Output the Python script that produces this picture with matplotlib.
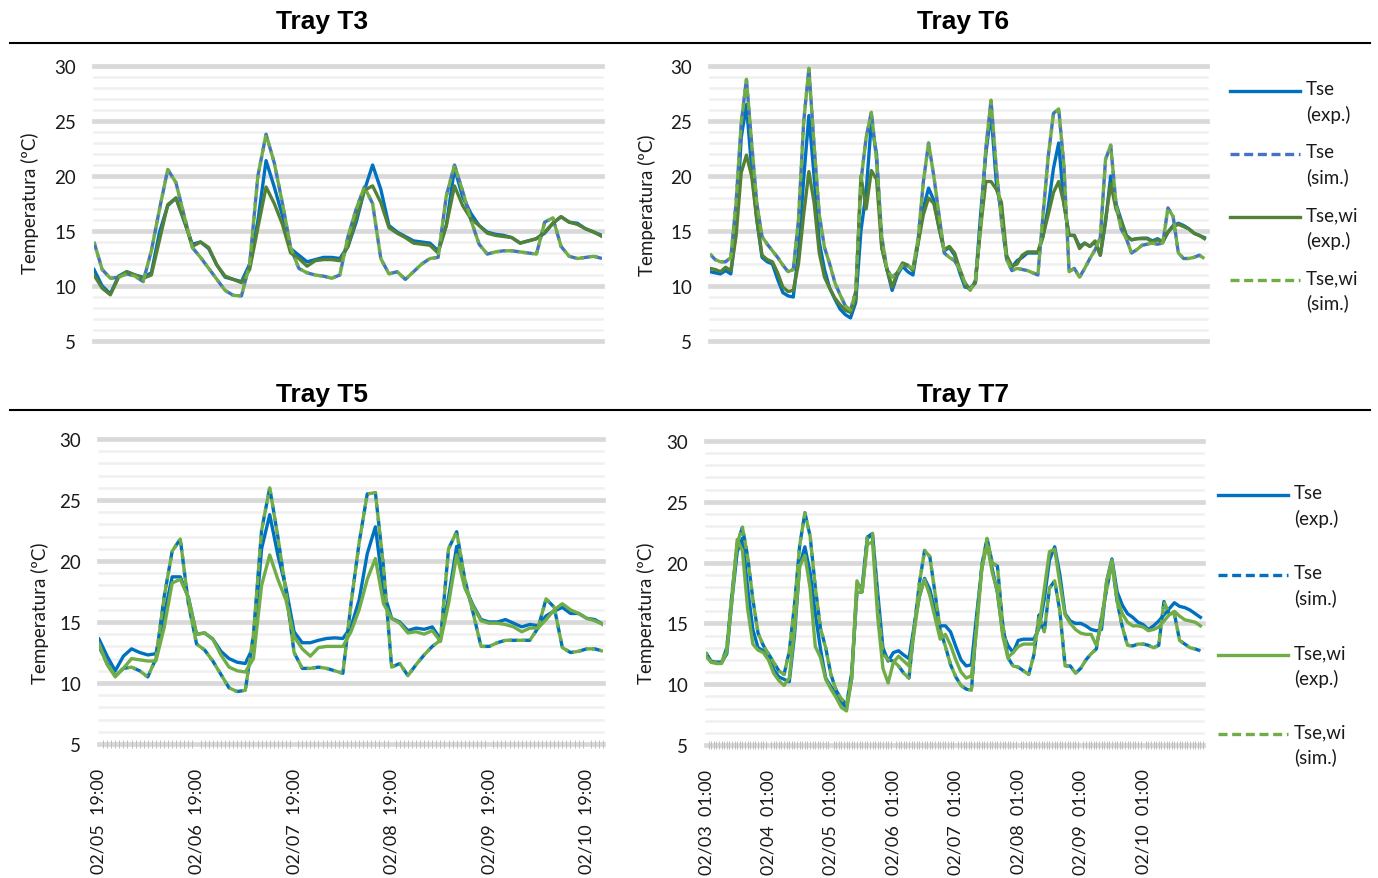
import numpy as np
import matplotlib
matplotlib.use('Agg')
import matplotlib.pyplot as plt
from matplotlib.lines import Line2D

plt.rcParams['font.family'] = ['Lato', 'DejaVu Sans']

# hours after the first reading, one value every 2 h
hours_a = list(range(0, 125, 2))   # Tray T3 / T5, from 02/05 19:00
hours_b = list(range(0, 191, 2))   # Tray T6 / T7, from 02/03 01:00

ticks_a = [0, 24, 48, 72, 96, 120]
labels_a = ['02/05  19:00', '02/06  19:00', '02/07  19:00',
            '02/08  19:00', '02/09  19:00', '02/10  19:00']
ticks_b = [0, 24, 48, 72, 96, 120, 144, 168]
labels_b = ['02/03  01:00', '02/04  01:00', '02/05  01:00', '02/06  01:00',
            '02/07  01:00', '02/08  01:00', '02/09  01:00', '02/10  01:00']

legend_labels = ['Tse\n(exp.)', 'Tse\n(sim.)', 'Tse,wi\n(exp.)', 'Tse,wi\n(sim.)']

# ---- Tray T3
t3_tse_exp = [
    11.5, 10.0, 9.3, 10.9, 11.3, 11.0, 10.8, 11.2, 14.9, 17.3,
    18.0, 15.9, 13.8, 14.0, 13.4, 11.9, 10.8, 10.6, 10.4, 12.0,
    15.9, 21.4, 19.0, 16.4, 13.4, 12.8, 12.2, 12.4, 12.6, 12.6,
    12.5, 13.6, 15.8, 18.7, 21.0, 18.8, 15.5, 14.9, 14.5, 14.1,
    14.0, 13.9, 13.2, 15.5, 20.7, 18.1, 16.6, 15.5, 14.9, 14.7,
    14.6, 14.4, 13.9, 14.1, 14.3, 14.8, 15.7, 16.3, 15.8, 15.7,
    15.2, 14.9, 14.6]
t3_tsewi_exp = [
    11.0, 9.8, 9.2, 10.8, 11.3, 11.0, 10.7, 11.0, 14.2, 17.4,
    18.0, 16.0, 13.6, 14.0, 13.5, 11.9, 10.9, 10.6, 10.3, 11.5,
    15.3, 19.0, 17.5, 15.6, 13.0, 12.5, 11.8, 12.3, 12.4, 12.4,
    12.3, 13.6, 16.2, 18.7, 19.1, 17.6, 15.3, 14.8, 14.4, 13.9,
    13.8, 13.7, 13.0, 15.5, 19.1, 17.3, 16.1, 15.5, 14.8, 14.6,
    14.5, 14.4, 13.9, 14.1, 14.3, 14.9, 15.7, 16.3, 15.8, 15.6,
    15.2, 14.9, 14.5]
t3_tse_sim = [
    14.0, 11.5, 10.7, 10.8, 11.1, 10.9, 10.4, 13.2, 17.0, 20.6,
    19.4, 16.4, 13.5, 12.6, 11.6, 10.6, 9.6, 9.15, 9.1, 12.0,
    20.0, 23.8, 21.2, 17.5, 13.5, 11.6, 11.2, 11.0, 10.9, 10.7,
    11.0, 14.5, 17.0, 19.0, 17.5, 12.5, 11.1, 11.3, 10.6, 11.3,
    12.0, 12.5, 12.6, 18.2, 21.0, 18.6, 16.0, 13.8, 12.9, 13.1,
    13.2, 13.2, 13.1, 13.0, 12.9, 15.8, 16.2, 13.6, 12.7, 12.5,
    12.6, 12.7, 12.5]
t3_tsewi_sim = list(t3_tse_sim)   # the two simulated curves coincide

# ---- Tray T5
t5_tse_exp = [
    13.6, 12.2, 11.0, 12.2, 12.8, 12.5, 12.3, 12.4, 15.5, 18.7,
    18.7, 17.0, 14.0, 14.1, 13.6, 12.6, 12.0, 11.7, 11.6, 13.0,
    21.0, 23.8, 20.5, 17.8, 14.2, 13.3, 13.3, 13.5, 13.65, 13.7,
    13.65, 14.6, 16.8, 20.6, 22.8, 17.5, 15.3, 15.0, 14.3, 14.5,
    14.4, 14.6, 13.6, 17.0, 21.2, 17.9, 16.4, 15.2, 15.0, 15.0,
    15.2, 14.9, 14.6, 14.8, 14.7, 15.5, 15.9, 16.2, 15.7, 15.7,
    15.3, 15.2, 14.8]
t5_tsewi_exp = [
    13.2, 11.5, 10.5, 11.2, 12.0, 11.9, 11.8, 11.8, 14.5, 18.2,
    18.5, 17.0, 14.0, 14.1, 13.6, 12.3, 11.3, 11.0, 10.9, 12.0,
    18.0, 20.5, 18.5, 16.8, 13.8, 12.8, 12.2, 12.9, 13.0, 13.0,
    13.0, 14.2, 16.0, 18.5, 20.2, 16.5, 15.3, 14.9, 14.1, 14.2,
    14.0, 14.3, 13.4, 16.5, 20.5, 17.8, 16.3, 15.1, 14.9, 14.9,
    14.8, 14.6, 14.2, 14.5, 14.5, 15.2, 16.0, 16.5, 16.0, 15.7,
    15.3, 15.1, 14.8]
t5_tse_sim = [
    13.0, 11.6, 10.6, 11.2, 11.3, 11.0, 10.5, 12.0, 17.0, 20.8,
    21.8, 16.5, 13.2, 12.7, 11.8, 10.7, 9.6, 9.3, 9.4, 14.0,
    22.5, 26.0, 22.0, 17.5, 12.5, 11.2, 11.2, 11.3, 11.2, 11.0,
    10.8, 16.5, 21.5, 25.5, 25.6, 19.5, 11.3, 11.6, 10.6, 11.5,
    12.3, 13.0, 13.5, 21.0, 22.4, 18.5, 15.8, 13.0, 13.0, 13.3,
    13.5, 13.5, 13.5, 13.5, 14.5, 16.9, 16.2, 12.9, 12.5, 12.6,
    12.8, 12.8, 12.6]
t5_tsewi_sim = list(t5_tse_sim)

# ---- Tray T6
t6_tse_exp = [
    11.3, 11.2, 11.1, 11.4, 11.1, 15.0, 23.5, 26.5, 20.7, 16.0,
    12.6, 12.2, 12.0, 10.6, 9.4, 9.1, 9.0, 13.0, 19.8, 25.5,
    20.0, 14.0, 11.5, 9.8, 8.8, 7.9, 7.4, 7.1, 8.5, 15.0,
    18.5, 24.9, 22.0, 13.5, 11.5, 9.6, 11.0, 11.8, 11.3, 11.0,
    14.0, 17.1, 18.9, 17.8, 15.3, 13.2, 13.5, 12.8, 11.2, 9.9,
    9.8, 10.3, 16.5, 22.0, 25.8, 19.5, 16.6, 12.6, 11.7, 12.3,
    12.6, 13.0, 13.0, 13.0, 14.5, 17.2, 20.7, 23.0, 17.5, 14.6,
    14.6, 13.6, 13.9, 13.6, 14.0, 12.8, 15.8, 20.0, 17.5, 16.0,
    14.6, 14.2, 14.3, 14.35, 14.35, 14.1, 14.3, 14.0, 14.9, 15.5,
    15.7, 15.5, 15.2, 14.8, 14.6, 14.4]
t6_tsewi_exp = [
    11.6, 11.5, 11.3, 11.7, 11.4, 14.5, 20.3, 21.9, 20.0, 16.0,
    12.8, 12.4, 12.2, 11.2, 9.9, 9.5, 9.6, 12.0, 16.5, 20.4,
    17.6, 13.0, 10.8, 9.8, 8.9, 8.3, 7.8, 7.6, 8.8, 20.0,
    17.0, 20.5, 19.7, 13.5, 11.5, 9.9, 11.2, 12.1, 11.9, 11.4,
    13.9, 16.5, 18.0, 17.5, 15.3, 13.3, 13.6, 13.0, 11.5, 10.1,
    9.7, 10.3, 15.3, 19.5, 19.5, 18.8, 17.6, 12.8, 11.8, 12.0,
    12.8, 13.1, 13.1, 13.1, 14.6, 16.5, 18.5, 19.5, 17.5, 14.6,
    14.6, 13.4, 13.9, 13.6, 14.1, 12.8, 16.0, 19.3, 17.0, 15.9,
    14.5, 14.2, 14.3, 14.3, 14.3, 14.0, 14.2, 14.0, 14.9, 15.4,
    15.6, 15.4, 15.2, 14.8, 14.6, 14.3]
t6_tse_sim = [
    12.9, 12.4, 12.2, 12.2, 12.6, 17.5, 24.8, 28.8, 23.0, 17.5,
    14.5, 13.8, 13.2, 12.6, 11.9, 11.3, 11.5, 16.0, 24.9, 29.8,
    22.8, 16.5, 13.5, 12.0, 10.3, 9.2, 8.2, 7.8, 9.5, 19.5,
    23.5, 25.8, 21.5, 14.5, 11.5, 10.8, 11.2, 11.9, 11.8, 11.6,
    14.3, 19.5, 23.0, 20.0, 16.5, 13.0, 12.6, 12.3, 11.5, 10.3,
    9.6, 10.5, 15.5, 22.5, 26.9, 20.7, 16.0, 12.4, 11.4, 11.6,
    11.5, 11.4, 11.2, 11.0, 16.5, 21.8, 25.7, 26.1, 21.0, 11.3,
    11.6, 10.8, 11.6, 12.5, 13.3, 14.4, 21.5, 22.8, 17.5, 15.2,
    14.3, 13.0, 13.3, 13.7, 13.8, 13.9, 13.8, 13.9, 17.1, 16.3,
    13.0, 12.5, 12.5, 12.6, 12.8, 12.5]
t6_tsewi_sim = list(t6_tse_sim)

# ---- Tray T7
t7_tse_exp = [
    12.5, 11.9, 11.8, 11.8, 12.5, 17.0, 20.9, 22.0, 17.9, 14.5,
    13.0, 12.75, 12.3, 11.2, 10.6, 10.4, 10.2, 14.0, 19.8, 21.3,
    19.2, 15.8, 12.9, 10.5, 9.8, 9.2, 8.5, 8.1, 10.5, 18.2,
    18.0, 22.0, 22.3, 17.5, 13.0, 11.9, 12.6, 12.75, 12.4, 12.1,
    14.8, 17.2, 18.7, 17.8, 16.0, 14.8, 14.8, 14.3, 13.1, 12.0,
    11.5, 11.6, 15.7, 19.5, 21.8, 19.5, 17.5, 14.3, 13.2, 12.6,
    13.6, 13.7, 13.7, 13.7, 14.6, 17.0, 20.2, 21.3, 19.0, 15.8,
    15.2, 15.0, 15.0, 14.8, 14.5, 14.4, 14.5, 18.5, 20.3, 17.6,
    16.5, 15.8, 15.5, 15.1, 14.9, 14.5, 14.8, 15.2, 15.7, 16.2,
    16.7, 16.4, 16.3, 16.1, 15.8, 15.5]
t7_tsewi_exp = [
    12.3, 11.8, 11.7, 11.7, 12.7, 17.0, 21.9, 21.0, 16.2, 13.3,
    12.8, 12.6, 12.0, 10.9, 10.3, 9.9, 10.5, 14.5, 19.7, 20.6,
    17.9, 13.1, 12.2, 10.4, 9.6, 8.9, 8.1, 7.8, 10.5, 18.5,
    17.6, 21.5, 21.7, 15.5, 11.3, 10.1, 11.8, 12.3, 11.9, 11.5,
    14.3, 17.3, 18.6, 17.3, 15.5, 13.7, 14.1, 13.2, 12.0, 11.0,
    10.5, 10.7, 14.5, 19.5, 21.5, 19.2, 17.6, 14.0, 12.2, 12.6,
    13.1, 13.3, 13.3, 13.3, 14.8, 17.8, 20.9, 21.1, 18.3, 15.7,
    15.0, 14.5, 14.2, 14.1, 14.1, 13.2, 15.0, 18.5, 20.2, 17.0,
    15.8, 15.1, 14.8, 14.8, 14.7, 14.4, 14.5, 14.7, 15.2, 15.7,
    16.0, 15.6, 15.3, 15.2, 15.1, 14.8]
t7_tse_sim = [
    12.6, 11.8, 11.8, 11.8, 13.0, 17.5, 21.6, 22.9, 20.5, 17.0,
    14.2, 13.2, 12.5, 11.8, 11.1, 10.8, 12.7, 16.5, 21.4, 24.1,
    22.2, 18.0, 14.6, 13.0, 10.8, 9.5, 8.8, 8.3, 11.0, 17.5,
    17.6, 22.1, 22.4, 16.5, 12.5, 12.0, 11.9, 11.5, 10.9, 10.5,
    14.6, 18.3, 21.0, 20.5, 17.5, 14.5, 13.1, 11.6, 10.6, 9.9,
    9.6, 9.5, 15.0, 19.8, 22.0, 20.0, 19.7, 15.0, 12.2, 11.5,
    11.4, 11.1, 10.8, 12.4, 15.7, 14.3, 17.9, 18.5, 16.0, 11.5,
    11.5, 10.9, 11.3, 12.0, 12.5, 12.9, 15.5, 17.8, 20.0, 16.8,
    14.7, 13.2, 13.15, 13.3, 13.3, 13.2, 13.0, 13.2, 16.8, 15.8,
    15.8, 13.6, 13.3, 13.0, 12.9, 12.75]
t7_tsewi_sim = list(t7_tse_sim)

BLUE = '#0070C0'
BLUE_SIM = '#4472C4'
GREEN_DARK = '#548235'
GREEN = '#70AD47'
colors_dark = [BLUE, BLUE_SIM, GREEN_DARK, GREEN]
colors_light = [BLUE, BLUE, GREEN, GREEN]

W, H = 1378, 879
fig = plt.figure(figsize=(W / 100, H / 100), dpi=100)

DASH = (2.7, 1.4)
# the second simulated curve is shifted along its dashes so the first shows through
styles = ['-', (0, DASH), '-', (1.8, DASH)]
legend_styles = ['-', (0, DASH), '-', (0, DASH)]
LW = 2.4


def panel(x0, x1, y30, y5, hours, series, colors, xmax, ticks=None, labels=None):
    ax = fig.add_axes([x0 / W, 1 - y5 / H, (x1 - x0) / W, (y5 - y30) / H])
    for v in range(5, 31):
        if v % 5 == 0:
            ax.axhline(v, color='#D9D9D9', lw=3.4, zorder=0, clip_on=False)
        else:
            ax.axhline(v, color='#F0F0F0', lw=1.8, zorder=0, clip_on=False)
    for vals, c, ls in zip(series, colors, styles):
        ax.plot(hours, vals, color=c, lw=LW, linestyle=ls,
                solid_joinstyle='round', dash_capstyle='butt', zorder=3)
    ax.set_xlim(0, xmax)
    ax.set_ylim(5, 30)
    for s in ax.spines.values():
        s.set_visible(False)
    ax.set_yticks(range(5, 31, 5))
    ax.tick_params(axis='y', length=0, pad=13, labelsize=13.5, labelcolor='#1a1a1a')
    if ticks is None:
        ax.set_xticks([])
    else:
        ax.set_xticks(ticks)
        ax.set_xticklabels(labels, rotation=90, fontsize=13, color='#1a1a1a')
        ax.set_xticks(np.arange(0, xmax + 0.5, 1), minor=True)
        ax.tick_params(axis='x', which='major', length=0, pad=17)
        ax.tick_params(axis='x', which='minor', length=6, width=0.7,
                       color='#BFBFBF', direction='inout')
    return ax


panel(94, 602, 67, 342, hours_a,
      [t3_tse_exp, t3_tse_sim, t3_tsewi_exp, t3_tsewi_sim], colors_dark, 124)
panel(710, 1207, 67, 342, hours_b,
      [t6_tse_exp, t6_tse_sim, t6_tsewi_exp, t6_tsewi_sim], colors_dark, 191)
panel(99, 603, 440, 745, hours_a,
      [t5_tse_exp, t5_tse_sim, t5_tsewi_exp, t5_tsewi_sim], colors_light, 124,
      ticks_a, labels_a)
panel(706, 1203, 442, 746, hours_b,
      [t7_tse_exp, t7_tse_sim, t7_tsewi_exp, t7_tsewi_sim], colors_light, 191,
      ticks_b, labels_b)

# titles and rules under them
for x, y, name in [(322, 22, 'Tray T3'), (963, 22, 'Tray T6'),
                   (322, 395, 'Tray T5'), (963, 395, 'Tray T7')]:
    fig.text(x / W, 1 - y / H, name, ha='center', va='center', fontsize=19,
             fontweight='bold', family='Liberation Sans')
for y in [44, 411]:
    fig.add_artist(Line2D([10 / W, 1370 / W], [1 - y / H, 1 - y / H],
                          color='black', lw=1.5))

for x, y in [(30, 203), (647, 205), (40, 613), (646, 613)]:
    fig.text(x / W, 1 - y / H, 'Temperatura (ºC)', rotation=90, ha='center',
             va='center', fontsize=13.5, color='#1a1a1a')


def legend(x0, x1, ys, colors):
    for y, c, ls, lab in zip(ys, colors, legend_styles, legend_labels):
        fig.add_artist(Line2D([x0 / W, x1 / W], [1 - y / H, 1 - y / H],
                              color=c, lw=LW, linestyle=ls))
        fig.text((x1 + 6) / W, 1 - (y - 11) / H, lab, ha='left', va='top',
                 fontsize=13.5, linespacing=1.5, color='#1a1a1a')


legend(1230, 1300, [92, 155, 218, 281], colors_dark)
legend(1218, 1288, [496, 576, 656, 735], colors_light)

fig.savefig('out.png', dpi=100)
